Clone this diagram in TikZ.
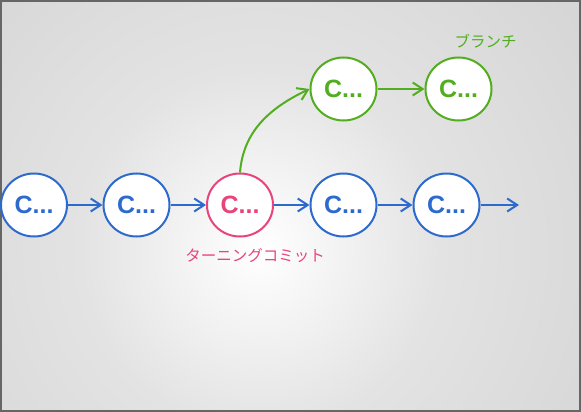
\documentclass[tikz,border=0pt]{standalone}
\usepackage{fontspec}
\setmainfont{Liberation Sans}
\newfontfamily\jpfont{Noto Sans CJK JP}
\usetikzlibrary{arrows.meta,shapes.geometric}
\definecolor{cblue}{HTML}{2C6ACD}
\definecolor{cpink}{HTML}{E8437C}
\definecolor{cgreen}{HTML}{52AE20}
\definecolor{frame}{HTML}{666666}
\pgfdeclareradialshading{bgshade}{\pgfpointorigin}{color(0bp)=(white); color(10.5bp)=(black!11); color(30bp)=(black!19); color(42bp)=(black!26); color(50bp)=(black!30)}
\begin{document}
\begin{tikzpicture}[x=1pt,y=-1pt,
  commit/.style={ellipse, draw=#1, fill=white, line width=2pt, minimum width=66pt, minimum height=63pt, inner sep=0pt, text=#1, font=\bfseries\fontsize{25}{25}\selectfont},
  link/.style={draw=#1, line width=2pt, -{Straight Barb[length=10pt,width=13pt,line width=2pt]}},
  lbl/.style={text=#1, font=\jpfont\fontsize{15.5}{16}\selectfont, inner sep=0pt}]
\useasboundingbox (0,0) rectangle (581,412);
\begin{scope}
\clip (0,0) rectangle (581,412);
\shade[shading=bgshade] (260,250) circle[radius=430];
\end{scope}
\draw[frame, line width=1.6pt] (0.8,0.8) rectangle (580.2,411.2);
\node[commit=cblue] (c1) at (34,205) {C...};
\node[commit=cblue] (c2) at (136.5,205) {C...};
\node[commit=cpink] (c3) at (240,205) {C...};
\node[commit=cblue] (c4) at (343.5,205) {C...};
\node[commit=cblue] (c5) at (446.5,205) {C...};
\coordinate (end) at (519,205);
\node[commit=cgreen] (b1) at (343.5,89) {C...};
\node[commit=cgreen] (b2) at (458.5,89) {C...};
\node[lbl=cgreen] (lb) at (485.5,41) {ブランチ};
\node[lbl=cpink] (lt) at (255,256) {ターニングコミット};
\draw[link=cblue] (c1) -- (c2);
\draw[link=cblue] (c2) -- (c3);
\draw[link=cblue] (c3) -- (c4);
\draw[link=cblue] (c4) -- (c5);
\draw[link=cblue] (c5) -- (end);
\draw[link=cgreen] (b1) -- (b2);
\draw[link=cgreen] (c3.north) .. controls (243,135) and (265,110) .. (b1.west);
\end{tikzpicture}
\end{document}
